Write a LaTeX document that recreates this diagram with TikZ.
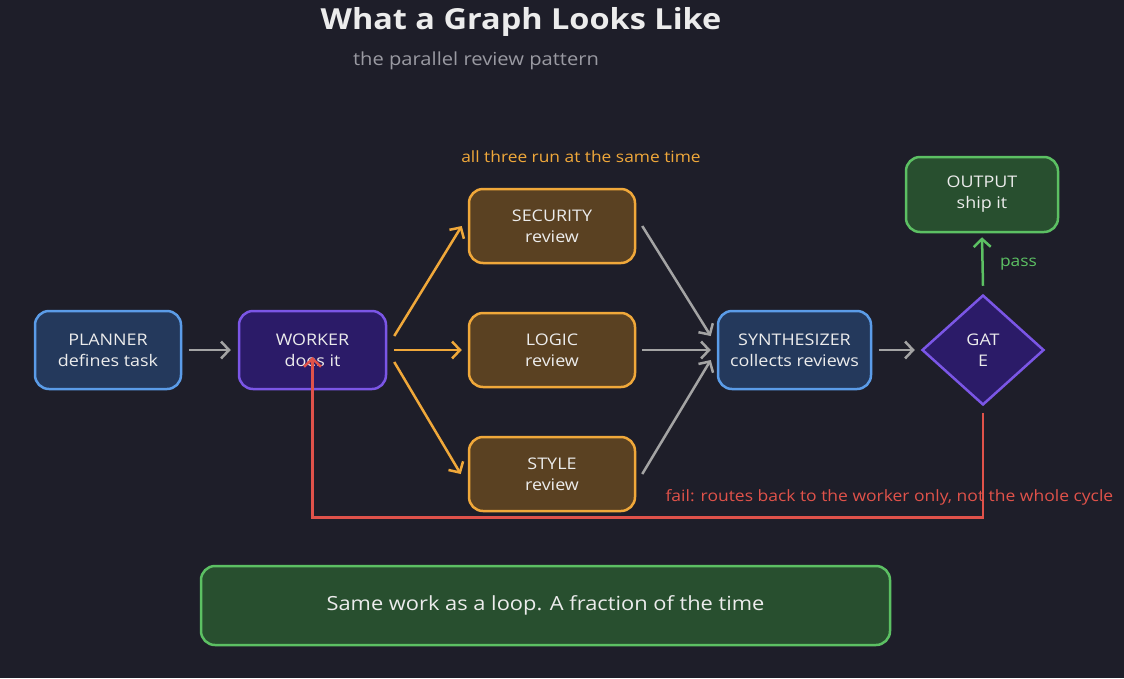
\documentclass[tikz,border=0pt]{standalone}
\usepackage{fontspec}
\setmainfont{Open Sans}[FakeStretch=1.12]
\usepackage{xcolor}
\usetikzlibrary{arrows.meta,shapes.geometric}

\definecolor{bgdark}{HTML}{1E1E29}
\definecolor{txtwhite}{HTML}{ECECEC}
\definecolor{subgrey}{HTML}{9A9AA2}
\definecolor{blueline}{HTML}{5B9CE8}
\definecolor{bluefill}{HTML}{24395C}
\definecolor{purpleline}{HTML}{7B56E6}
\definecolor{purplefill}{HTML}{2B1B68}
\definecolor{orangeline}{HTML}{F0A83A}
\definecolor{orangefill}{HTML}{5A4122}
\definecolor{greenline}{HTML}{5CC063}
\definecolor{greenfill}{HTML}{284F2F}
\definecolor{greyarrow}{HTML}{A4A4A4}
\definecolor{redline}{HTML}{E0524A}

\tikzset{
  box/.style={draw, line width=2.5pt, rounded corners=14pt, align=center, text=txtwhite,
    font=\fontsize{16}{21}\selectfont, minimum height=78pt},
  flow/.style={-{Straight Barb[length=8pt,width=17pt,line width=2.5pt]}, line width=2.5pt},
}

\begin{document}
\begin{tikzpicture}[x=1pt, y=-1pt]
                \path[use as bounding box, fill=bgdark] (0,0) rectangle (1124,678);
                % titles
                \node[text=txtwhite, font=\fontsize{29}{36}\selectfont\bfseries] (title) at (521,22) {What a Graph Looks Like};
                \node[text=subgrey, font=\fontsize{18}{22}\selectfont] (subtitle) at (476,61) {the parallel review pattern};
                \node[text=orangeline, font=\fontsize{15.5}{18}\selectfont] (allthree) at (581,157) {all three run at the same time};
                % nodes
                \node[box, fill=bluefill, draw=blueline, minimum width=146pt] (planner) at (108,350) {PLANNER\\defines task};
                \node[box, fill=purplefill, draw=purpleline, minimum width=147pt] (worker) at (312.5,350) {WORKER\\does it};
                \node[box, fill=orangefill, draw=orangeline, minimum width=166pt, minimum height=74pt] (security) at (552,226) {SECURITY\\review};
                \node[box, fill=orangefill, draw=orangeline, minimum width=166pt, minimum height=74pt] (logic) at (552,350) {LOGIC\\review};
                \node[box, fill=orangefill, draw=orangeline, minimum width=166pt, minimum height=74pt] (style) at (552,474) {STYLE\\review};
                \node[box, fill=bluefill, draw=blueline, minimum width=153pt] (synth) at (794.5,350) {SYNTHESIZER\\collects reviews};
                \node[diamond, draw=purpleline, fill=purplefill, line width=2.5pt, inner sep=0pt, minimum width=122pt, minimum height=110pt,
                      align=center, text=txtwhite, font=\fontsize{16}{21}\selectfont] (gate) at (983,350) {GAT\\E};
                \node[box, fill=greenfill, draw=greenline, minimum width=152pt, minimum height=75pt] (output) at (982,194.5) {OUTPUT\\ship it};
                \node[box, fill=greenfill, draw=greenline, minimum width=689pt, minimum height=79pt, font=\fontsize{19.5}{24}\selectfont] (note) at (545.5,605.5) {Same work as a loop. A fraction of the time};
                % connectors
                \draw[flow, greyarrow] ([xshift=7pt]planner.east) -- ([xshift=-7pt]worker.west);
                \draw[flow, orangeline] ([xshift=7pt,yshift=14pt]worker.east) -- ([xshift=-6pt]security.west);
                \draw[flow, orangeline] ([xshift=7pt]worker.east) -- ([xshift=-6pt]logic.west);
                \draw[flow, orangeline] ([xshift=7pt,yshift=-12pt]worker.east) -- ([xshift=-7pt]style.west);
                \draw[flow, greyarrow] ([xshift=6pt]security.east) -- ([xshift=-6pt,yshift=14pt]synth.west);
                \draw[flow, greyarrow] ([xshift=6pt]logic.east) -- ([xshift=-6pt]synth.west);
                \draw[flow, greyarrow] ([xshift=6pt]style.east) -- ([xshift=-6pt,yshift=-10pt]synth.west);
                \draw[flow, greyarrow] ([xshift=7pt]synth.east) -- ([xshift=-6pt]gate.west);
                \draw[flow, greenline] ([yshift=8pt]gate.north) -- ([yshift=-4pt]output.south)
                      node[midway, right=13pt, yshift=-3pt, text=greenline, font=\fontsize{15.5}{18}\selectfont] (passlabel) {pass};
                \draw[flow, redline] ([yshift=-7pt]gate.south) -- ++(0,104) -| ([yshift=-7pt]worker.center);
                \node[anchor=west, text=redline, font=\fontsize{15.6}{18}\selectfont] (faillabel) at (662,497) {fail: routes back to the worker only, not the whole cycle};
            \end{tikzpicture}
\end{document}
